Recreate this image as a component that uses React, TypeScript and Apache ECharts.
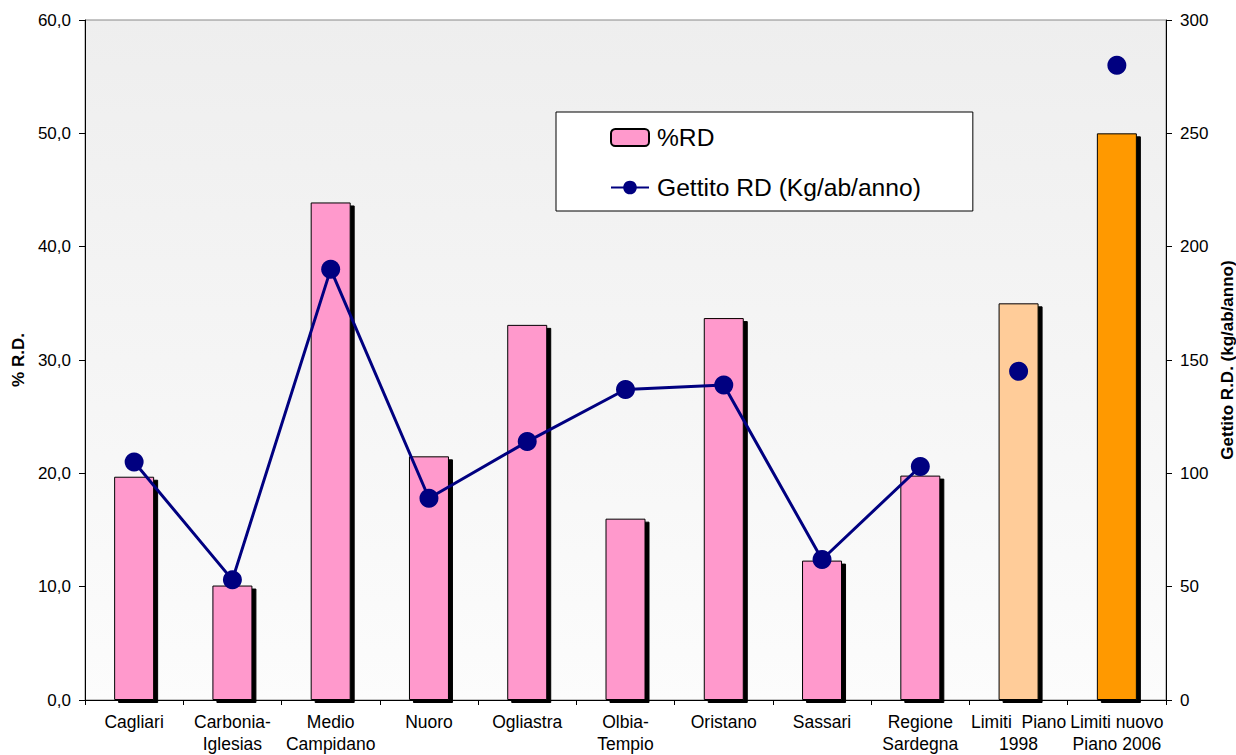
import React, { useEffect, useRef } from "react";
import * as echarts from "echarts";

const categories = [
  "Cagliari",
  "Carbonia-\nIglesias",
  "Medio\nCampidano",
  "Nuoro",
  "Ogliastra",
  "Olbia-\nTempio",
  "Oristano",
  "Sassari",
  "Regione\nSardegna",
  "Limiti  Piano\n1998",
  "Limiti nuovo\nPiano 2006",
];
const percentRD = [19.7, 10.1, 43.9, 21.5, 33.1, 16.0, 33.7, 12.3, 19.8, 35.0, 50.0];
const barColors = [
  "#FF99CC", "#FF99CC", "#FF99CC", "#FF99CC", "#FF99CC", "#FF99CC",
  "#FF99CC", "#FF99CC", "#FF99CC", "#FFCC99", "#FF9900",
];
const gettito = [105, 53, 190, 89, 114, 137, 139, 62, 103];
const gettitoLimiti = ["-", "-", "-", "-", "-", "-", "-", "-", "-", 145, 280];

export default function App() {
  const ref = useRef<HTMLDivElement>(null);
  useEffect(() => {
    const chart = echarts.init(ref.current!, null, { renderer: "svg" });
    const font = "Liberation Sans, Arial, sans-serif";
    chart.setOption({
      animation: false,
      textStyle: { fontFamily: font },
      grid: {
        left: 85,
        right: 70,
        top: 20,
        bottom: 55,
        outerBoundsMode: "none",
        containLabel: false,
        show: true,
        borderColor: "#888",
        borderWidth: 1,
        backgroundColor: new echarts.graphic.LinearGradient(0, 0, 0, 1, [
          { offset: 0, color: "#EEEEEE" },
          { offset: 1, color: "#FCFCFC" },
        ]),
      },
      legend: {
        left: 556,
        top: 112,
        orient: "vertical",
        data: ["%RD", "Gettito RD (Kg/ab/anno)"],
        backgroundColor: "#fff",
        borderColor: "#000",
        borderWidth: 1,
        borderRadius: 0,
        padding: [13, 52, 11, 54],
        itemGap: 25,
        itemWidth: 38,
        itemHeight: 17,
        textStyle: { fontSize: 24.6, color: "#000", fontFamily: font, padding: [0, 0, 0, 3] },
      },
      xAxis: {
        type: "category",
        data: categories,
        axisLine: { lineStyle: { color: "#000", width: 1 } },
        axisTick: { show: true, length: 5, lineStyle: { color: "#000" } },
        axisLabel: {
          interval: 0,
          fontSize: 17.5,
          lineHeight: 22,
          color: "#000",
          margin: 11,
          fontFamily: font,
        },
      },
      yAxis: [
        {
          type: "value",
          min: 0,
          max: 60,
          interval: 10,
          position: "left",
          name: "% R.D.",
          nameLocation: "middle",
          nameRotate: 90,
          nameGap: 58,
          nameTextStyle: { fontSize: 17, fontWeight: "bold", color: "#000", fontFamily: font },
          axisLine: { show: true, lineStyle: { color: "#000" } },
          axisTick: { show: true, length: 6, lineStyle: { color: "#000" } },
          axisLabel: {
            fontSize: 17,
            color: "#000",
            margin: 14,
            fontFamily: font,
            formatter: (v: number) => v.toFixed(1).replace(".", ","),
          },
          splitLine: { show: false },
        },
        {
          type: "value",
          min: 0,
          max: 300,
          interval: 50,
          position: "right",
          name: "Gettito R.D. (kg/ab/anno)",
          nameLocation: "middle",
          nameRotate: 90,
          nameGap: 51,
          nameTextStyle: { fontSize: 17, fontWeight: "bold", color: "#000", fontFamily: font },
          axisLine: { show: true, lineStyle: { color: "#000" } },
          axisTick: { show: true, length: 6, lineStyle: { color: "#000" } },
          axisLabel: { fontSize: 17, color: "#000", margin: 14, fontFamily: font },
          splitLine: { show: false },
        },
      ],
      series: [
        {
          name: "%RD",
          type: "bar",
          yAxisIndex: 0,
          barWidth: 40,
          data: percentRD.map((v, i) => ({
            value: v,
            itemStyle: { color: barColors[i] },
          })),
          itemStyle: {
            color: "#FF99CC",
            borderColor: "#000",
            borderWidth: 1,
            shadowColor: "#000",
            shadowOffsetX: 4,
            shadowOffsetY: 3,
            shadowBlur: 0,
          },
          z: 2,
        },
        {
          name: "Gettito RD (Kg/ab/anno)",
          type: "line",
          yAxisIndex: 1,
          data: gettito,
          symbol: "circle",
          symbolSize: 19,
          itemStyle: { color: "#000080", opacity: 1 },
          lineStyle: { color: "#000080", width: 3 },
          z: 5,
        },
        {
          name: "Limiti gettito",
          type: "scatter",
          yAxisIndex: 1,
          data: gettitoLimiti,
          symbol: "circle",
          symbolSize: 19,
          itemStyle: { color: "#000080", opacity: 1 },
          z: 5,
        },
      ],
    });
    return () => chart.dispose();
  }, []);
  return (
    <div
      ref={ref}
      style={{ position: "fixed", left: 0, top: 0, width: 1236, height: 755, background: "#fff" }}
    />
  );
}
